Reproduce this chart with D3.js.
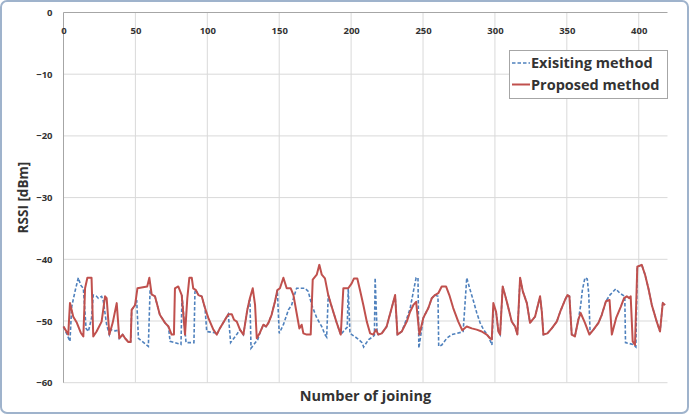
<!DOCTYPE html>
<html>
<head>
<meta charset="utf-8">
<script src="https://cdn.jsdelivr.net/npm/d3@7"></script>
<style>
  body { margin: 0; background: #fff; }
  text { font-family: "Open Sans", sans-serif; font-weight: bold; fill: #333; }
</style>
</head>
<body>
<div id="chart"></div>
<script>
// x ticks, y ticks
const xTicks = [0, 50, 100, 150, 200, 250, 300, 350, 400];
const yTicks = [0, -10, -20, -30, -40, -50, -60];
const seriesNames = ["Exisiting method", "Proposed method"];

// Proposed method
const proposedX = [0, 3.3, 4.5, 6.8, 9.3, 12, 13.8, 15, 16.6, 19.5, 20.7, 23, 26.5, 28.9, 30, 31.9, 34.2, 37, 38.8, 41.1,
  42.8, 45.1, 46.7, 47.4, 49.8, 51.4, 58.2, 59.7, 61.3, 63.6, 67, 70.6, 73, 75.2, 76.8, 77.5, 79.8, 82.2, 84.5, 86.1,
  87.5, 89.2, 90.2, 92.1, 93.8, 96.1, 98.4, 100.7, 104.2, 106.6, 108.7, 112.3, 114.6, 117, 118.6, 120.5, 122.7, 125.1, 127.8, 129.6,
  131.6, 133.2, 134.4, 136.6, 139, 140.9, 142.5, 144.7, 147.1, 148.7, 150.5, 152.9, 155.2, 158, 159.9, 162.1, 164, 165.6, 166.8, 169.1,
  171.9, 173.3, 176.1, 177.9, 179.6, 181.8, 184.1, 186.5, 190, 192.8, 194.6, 198, 200.4, 202, 204.3, 206.2, 208.5, 210.9, 213.2, 215.4,
  217.3, 218.9, 221.3, 224.7, 228.2, 230.6, 232.2, 235.2, 238.7, 241, 243.3, 245.2, 247.5, 250.2, 253.7, 256.1, 258.3, 260.6, 263, 266,
  268.3, 271, 274.5, 277.3, 280.4, 283.9, 287.3, 290.8, 294.3, 296.6, 297.8, 298.9, 300.8, 302.4, 303.6, 305.4, 308.2, 311.7, 314, 315.6,
  317.5, 319.4, 322.2, 324.4, 327.9, 331.4, 332.6, 333.7, 336.5, 339.5, 343, 345.4, 348.7, 350.4, 351.8, 353.4, 355.6, 358, 359.6, 362.6,
  365.7, 368.5, 372, 374.3, 377.2, 379.7, 381.3, 384.3, 387.5, 389.8, 391.7, 393.4, 394.4, 395.8, 397.4, 399, 402.1, 404.4, 406.7, 409.1,
  412.5, 414.8, 416.7, 418.3];
const proposedY = [-50.9, -52.2, -47.1, -49.3, -50.3, -51.9, -52.5, -44.7, -43, -43, -52.5, -51.7, -50.1, -46, -46.3, -52.2, -50.3, -47.1, -52.8, -52.2,
  -52.8, -53.4, -53.4, -48.2, -47.4, -44.7, -44.4, -43, -45.7, -46, -49, -50.3, -50.9, -52.2, -52.2, -44.7, -44.4, -45.8, -52.2, -46.3,
  -43, -43, -44.7, -45, -45.8, -46, -47.9, -49.5, -51.4, -52.2, -51.2, -49.8, -48.9, -48.9, -49.8, -50.1, -51.4, -52.2, -48.2, -46.3,
  -44.7, -47.4, -52.8, -51.9, -50.6, -50.9, -50.3, -49, -46.8, -45, -44.7, -43, -44.7, -44.7, -45.8, -48.7, -51.2, -50.6, -52, -52.2,
  -52.2, -43.3, -42.5, -40.9, -42.5, -43.1, -45.8, -47.7, -50.3, -52.2, -44.7, -44.7, -43.9, -43.1, -43.1, -45, -47.4, -50.1, -52, -52.2,
  -51.4, -52.2, -52, -50.9, -47.9, -45.8, -52.2, -51.7, -50.1, -48.5, -47.4, -46.9, -52.2, -49.5, -47.9, -46.3, -45.8, -45.5, -44.4, -44.4,
  -45.8, -47.9, -50.1, -51.5, -50.9, -51.2, -51.4, -51.7, -52.2, -52.8, -53, -47.1, -48.5, -51.7, -52.2, -44.4, -46.8, -50.1, -50.9, -52.2,
  -43, -45.2, -47.1, -50.3, -49.3, -46, -48.5, -52.2, -52, -51.2, -50.1, -48.5, -46.6, -45.8, -46, -52.2, -52.5, -49.8, -48.7, -50.3,
  -52.2, -51.4, -50.3, -49, -46.8, -46.6, -52.2, -49.5, -47.7, -46.3, -46, -46.3, -46, -53.3, -53.9, -41.2, -40.9, -42.5, -44.7, -47.4,
  -50.1, -51.7, -47.1, -47.4];

// Exisiting method
const existingX = [0, 4.5, 5.7, 8, 10.3, 12, 13.8, 15.7, 17.3, 19.5, 20.7, 23, 24.2, 26.5, 27.7, 30, 31.9, 32.8, 35.9, 38.2,
  38.8, 41.1, 42.8, 45.1, 46.7, 47.4, 49.8, 50.9, 52.1, 59, 60.2, 61.3, 63.6, 67, 70.6, 73, 74.1, 81.7, 82.4, 85.2,
  90.7, 91.4, 92.1, 93.8, 96.1, 98.4, 99.6, 105.3, 106.6, 108.7, 112.3, 114.6, 116.2, 120.4, 122.7, 125.1, 127.8, 129.6, 130.4, 135.1,
  136.6, 139, 140.9, 142.5, 144.7, 147.1, 148.7, 150, 152.9, 156.4, 158.7, 159.9, 162.1, 167.9, 170.2, 172.6, 176.1, 179.6, 181.8, 183,
  184.1, 186.5, 190, 192.8, 195.3, 197.3, 198, 199.2, 201.7, 204.2, 207.6, 208.7, 212.2, 215.4, 216.2, 216.7, 218.1, 218.9, 221.3, 224.7,
  228.2, 230.6, 232.2, 235.2, 238.7, 241, 243.3, 245.2, 246.5, 247.1, 249.4, 250.2, 253.7, 256.1, 258.3, 260.4, 260.9, 263, 266.5, 270,
  273.5, 277, 277.9, 280.4, 282.8, 285.1, 287.4, 289.7, 292.1, 295.5, 297.9, 298.9, 300.8, 302.4, 303.6, 305.4, 308.2, 311.7, 314, 315.6,
  317.5, 319.4, 322.2, 324.4, 327.9, 331.4, 332.6, 333.7, 336.5, 339.5, 343, 345.4, 348.7, 350.4, 351.8, 353.4, 355.6, 358, 359.6, 360.8,
  362.6, 364.2, 365.2, 366.2, 368.5, 372, 374.3, 377.2, 379.9, 384, 386.9, 390.3, 390.8, 396, 398, 399, 402.1, 404.4, 406.7, 409.1,
  412.5, 414.8, 416.7, 418.3];
const existingY = [-50.9, -53.3, -47.7, -45.2, -43, -44.2, -44.7, -51.2, -51.7, -49.5, -45.8, -46, -46.3, -46, -46.8, -50.6, -52.2, -51.4, -51.6, -51.5,
  -52.8, -52.2, -52.8, -53.4, -53.4, -48.2, -47.4, -46.6, -52.8, -54.1, -45, -45.7, -46, -49, -50.3, -50.9, -53.3, -53.8, -45.8, -53.5,
  -53.5, -45.3, -45, -45.8, -46, -47.9, -51.7, -51.9, -52.2, -51.2, -49.8, -48.9, -53.5, -52.2, -51.4, -52.2, -48.2, -46.3, -54.4, -53,
  -51.9, -50.6, -50.9, -50.3, -49, -46.8, -45, -52, -50.6, -48.2, -47.4, -46.3, -44.7, -44.7, -45.2, -47.4, -49.5, -50.9, -52.2, -52.6,
  -45.8, -47.7, -50.3, -52.2, -51.5, -51, -44.7, -52, -52.4, -52.8, -53.5, -54.2, -53, -52.5, -52.3, -43, -52, -52.2, -52, -50.9,
  -47.9, -45.8, -52.2, -51.7, -49.6, -48, -45.2, -43, -43, -54.4, -50.8, -49.5, -47.9, -46.3, -45.8, -46, -54.1, -53.9, -52.8, -52.2,
  -52, -51.8, -51.7, -43, -45, -46.8, -48.7, -50.3, -51.4, -52.5, -53.9, -48.2, -48.5, -51.7, -52.2, -44.4, -46.8, -50.1, -50.9, -52.2,
  -43, -45.2, -47.1, -50.3, -49.3, -46, -48.5, -52.2, -52, -51.2, -50.1, -48.5, -46.6, -45.8, -46, -52.2, -52.5, -49.8, -47.5, -45,
  -43, -43.2, -45.5, -52, -51.4, -50.3, -49, -46.8, -45.8, -44.8, -45.5, -46, -53.5, -53.8, -54.2, -41.2, -40.9, -42.5, -44.7, -47.4,
  -50.1, -51.7, -47.1, -47.4];

const svgWidth = 689,
  svgHeight = 414;
const plot = { left: 63.5, right: 667.5, top: 12.5, bottom: 382.7 };

let svg = d3.select("#chart").append("svg").
  attr("width", svgWidth).
  attr("height", svgHeight);

// outer frame
svg.append("rect").
  attr("x", 1).attr("y", 1).
  attr("width", svgWidth - 2).attr("height", svgHeight - 2).
  attr("rx", 6).
  attr("fill", "#fff").
  attr("stroke", "#9fb3cc").
  attr("stroke-width", 2);

let x = d3.scaleLinear().domain([0, 420]).range([plot.left, plot.right]);
let y = d3.scaleLinear().domain([-60, 0]).range([plot.bottom, plot.top]);

// grid
svg.append("g").
  selectAll("line.v").
  data(xTicks).
  join("line").
  attr("x1", d => x(d)).attr("x2", d => x(d)).
  attr("y1", y(0)).attr("y2", y(-60)).
  attr("stroke", "#d9d9d9");

svg.append("g").
  selectAll("line.h").
  data(yTicks).
  join("line").
  attr("x1", x(0)).attr("x2", x(420)).
  attr("y1", d => y(d)).attr("y2", d => y(d)).
  attr("stroke", d => d === 0 ? "#a6a6a6" : "#d9d9d9");

svg.append("line").
  attr("x1", x(0)).attr("x2", x(0)).
  attr("y1", y(0)).attr("y2", y(-60)).
  attr("stroke", "#a6a6a6");

// axes labels (ticks)
let xAxis = svg.append("g").
  attr("transform", `translate(0,${y(0)})`).
  call(d3.axisBottom(x).tickValues(xTicks).tickSize(0).tickPadding(15));
let yAxis = svg.append("g").
  attr("transform", `translate(${x(0)},0)`).
  call(d3.axisLeft(y).tickValues(yTicks).tickSize(0).tickPadding(11));
[xAxis, yAxis].forEach(a => {
  a.select(".domain").remove();
  a.selectAll("text").
    style("font-family", "'Open Sans', sans-serif").
    style("font-weight", "bold").
    style("font-size", "9.5px").
    attr("fill", "#333");
});

// series
const proposed = proposedX.map((v, i) => [v, proposedY[i]]);
const existing = existingX.map((v, i) => [v, existingY[i]]);
const line = d3.line().x(d => x(d[0])).y(d => y(d[1]));

svg.append("path").
  datum(existing).
  attr("d", line).
  attr("fill", "none").
  attr("stroke", "#4f81bd").
  attr("stroke-width", 1.6).
  attr("stroke-dasharray", "3.5,2");

svg.append("path").
  datum(proposed).
  attr("d", line).
  attr("fill", "none").
  attr("stroke", "#c0504d").
  attr("stroke-width", 2).
  attr("stroke-linejoin", "round");

// axis titles
svg.append("text").
  attr("x", (plot.left + plot.right) / 2).
  attr("y", 401).
  attr("text-anchor", "middle").
  style("font-size", "14.5px").
  text("Number of joining");

svg.append("text").
  attr("transform", `translate(27.5,${(plot.top + plot.bottom) / 2}) rotate(-90)`).
  attr("text-anchor", "middle").
  style("font-size", "13.5px").
  text("RSSI [dBm]");

// legend
let legend = svg.append("g");
legend.append("rect").
  attr("x", 509.5).attr("y", 50.5).
  attr("width", 158).attr("height", 48).
  attr("fill", "#fff").
  attr("stroke", "#a6a6a6");
const legendColors = ["#4f81bd", "#c0504d"];
seriesNames.forEach((name, i) => {
  const cy = 63 + i * 21.5;
  legend.append("line").
    attr("x1", 512).attr("x2", 530).
    attr("y1", cy).attr("y2", cy).
    attr("stroke", legendColors[i]).
    attr("stroke-width", i === 0 ? 1.6 : 2).
    attr("stroke-dasharray", i === 0 ? "3.5,2" : null);
  legend.append("text").
    attr("x", 531).
    attr("y", cy).
    attr("dy", "0.35em").
    style("font-size", "14.5px").
    text(name);
});
</script>
</body>
</html>
